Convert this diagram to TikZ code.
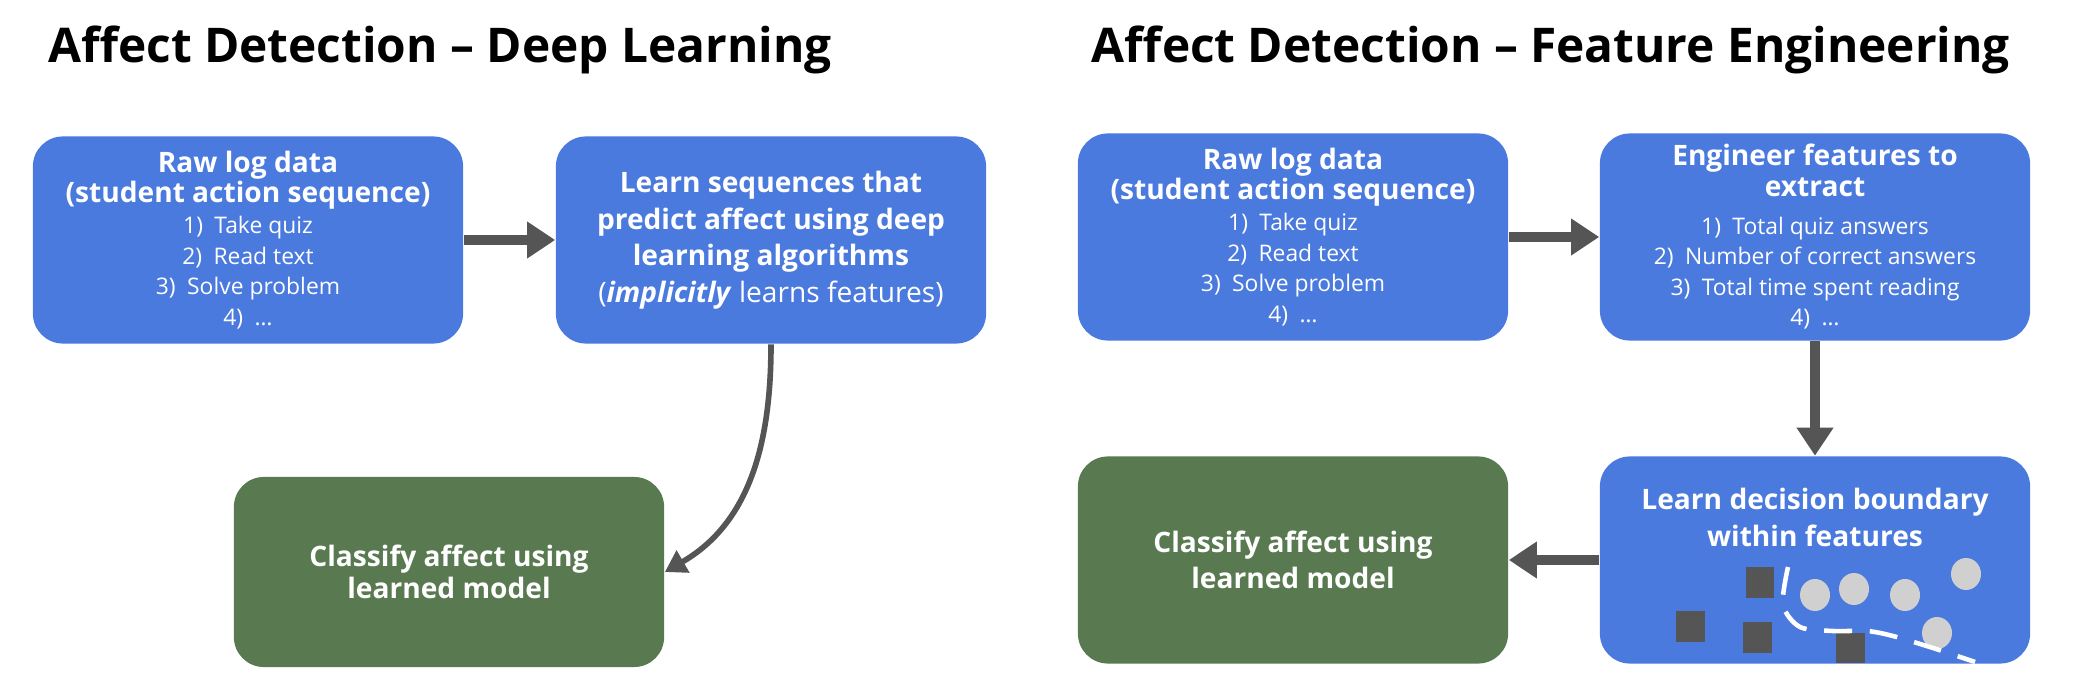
\documentclass[tikz,border=0pt]{standalone}
\usepackage{fontspec}
\setmainfont{Open Sans}
\usetikzlibrary{arrows.meta,positioning}
\definecolor{boxblue}{RGB}{74, 122, 222}
\definecolor{boxgreen}{RGB}{89, 122, 80}
\definecolor{arrowgray}{RGB}{85, 85, 85}
\definecolor{dotgray}{RGB}{208, 208, 208}
\newcommand{\hd}{\fontsize{8}{8.7}\selectfont\bfseries}
\newcommand{\ls}{\fontsize{6.5}{8.7}\selectfont\mdseries}

\begin{document}
\begin{tikzpicture}[
        x=0.01cm, y=-0.01cm,
        bluebox/.style={rectangle, rounded corners=0.3cm, fill=boxblue, text=white, minimum width=4.3cm, minimum height=2.07cm, align=center, inner sep=0pt, font=\fontsize{8}{8.7}\selectfont},
        greenbox/.style={rectangle, rounded corners=0.3cm, fill=boxgreen, text=white, minimum width=4.3cm, minimum height=1.9cm, align=center, inner sep=0pt, font=\fontsize{8}{9}\selectfont},
        title/.style={font=\fontsize{13.6}{16}\selectfont\bfseries, text=black},
        flow/.style={-{Triangle[length=8pt,width=10pt]}, line width=3pt, color=arrowgray},
        curveflow/.style={-{Triangle[length=6pt,width=7pt]}, line width=1.6pt, color=arrowgray},
        square/.style={fill=arrowgray},
        dot/.style={fill=dotgray}
    ]
    \useasboundingbox (0,0) rectangle (2090,691);

    % Titles
    \node[title] (titleL) at (440,50) {Affect Detection -- Deep Learning};
    \node[title] (titleR) at (1551,50) {Affect Detection -- Feature Engineering};

    % Deep learning side
    \node[bluebox] (rawL) at (248,240) {\hd Raw log data\\ \hd (student action sequence)\\
        \ls 1)\enspace Take quiz\\ \ls 2)\enspace Read text\\ \ls 3)\enspace Solve problem\\ \ls 4)\enspace \dots};
    \node[bluebox, font=\fontsize{8}{10.4}\selectfont] (learnL) at (771,240) {\hd Learn sequences that\\ \hd predict affect using deep\\ \hd learning algorithms\\
        (\textbf{\textit{implicitly}} learns features)};
    \node[greenbox] (classL) at (449,572) {\hd Classify affect using\\ \hd learned model};

    % Feature engineering side
    \node[bluebox] (rawR) at (1293,237) {\hd Raw log data\\ \hd (student action sequence)\\
        \ls 1)\enspace Take quiz\\ \ls 2)\enspace Read text\\ \ls 3)\enspace Solve problem\\ \ls 4)\enspace \dots};
    \node[bluebox] (engR) at (1815,237) {\hd Engineer features to\\ \hd extract\\[2pt]
        \ls 1)\enspace Total quiz answers\\ \ls 2)\enspace Number of correct answers\\ \ls 3)\enspace Total time spent reading\\ \ls 4)\enspace \dots};
    \node[bluebox] (boundR) at (1815,560) {};
    \node[text=white, align=center, font=\fontsize{8}{10.4}\selectfont, below=0.2cm of boundR.north] (boundtxt) {\hd Learn decision boundary\\ \hd within features};
    \node[greenbox, minimum height=2.07cm, font=\fontsize{8}{10.4}\selectfont] (classR) at (1293,560) {\hd Classify affect using\\ \hd learned model};

    % Scatter inside the boundary box
    \fill[square] (1746,567) rectangle (1774,598);
    \fill[square] (1676,611) rectangle (1705,642);
    \fill[square] (1743,622) rectangle (1772,653);
    \fill[square] (1836,633) rectangle (1865,663);
    \fill[dot] (1815,595) ellipse (15 and 16);
    \fill[dot] (1854,589) ellipse (15 and 16);
    \fill[dot] (1905,595) ellipse (15 and 16);
    \fill[dot] (1966,574) ellipse (15 and 16);
    \fill[dot] (1937,633) ellipse (15 and 16);
    \draw[white, line width=1.3pt, dash pattern=on 8pt off 5pt] plot[smooth] coordinates
        {(1788,567) (1783,605) (1800,627) (1833,631) (1867,631) (1893,636) (1933,648) (1975,662)};

    % Arrows
    \draw[flow] (rawL) -- (learnL);
    \draw[curveflow] (learnL.south) to[out=-90, in=30] (classL.east);
    \draw[flow] (rawR) -- (engR);
    \draw[flow] (engR) -- (boundR);
    \draw[flow] (boundR) -- (classR);

\end{tikzpicture}
\end{document}
